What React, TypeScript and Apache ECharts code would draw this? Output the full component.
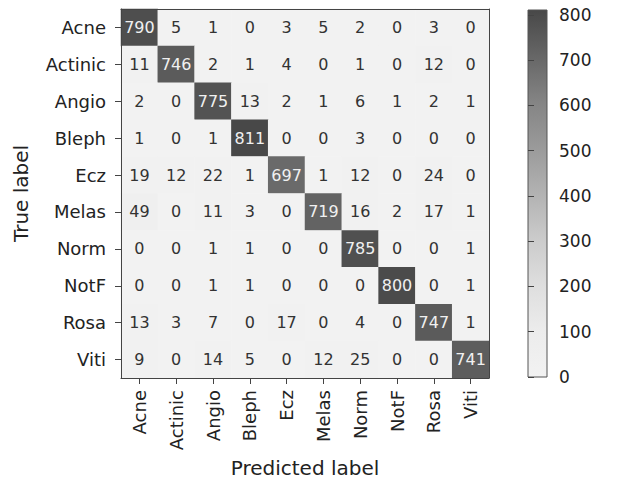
import React, { useEffect, useRef } from "react";
import * as echarts from "echarts";

const categories = ["Acne", "Actinic", "Angio", "Bleph", "Ecz", "Melas", "Norm", "NotF", "Rosa", "Viti"];

// rows = true label, columns = predicted label
const matrix: number[][] = [
  [790, 5, 1, 0, 3, 5, 2, 0, 3, 0],
  [11, 746, 2, 1, 4, 0, 1, 0, 12, 0],
  [2, 0, 775, 13, 2, 1, 6, 1, 2, 1],
  [1, 0, 1, 811, 0, 0, 3, 0, 0, 0],
  [19, 12, 22, 1, 697, 1, 12, 0, 24, 0],
  [49, 0, 11, 3, 0, 719, 16, 2, 17, 1],
  [0, 0, 1, 1, 0, 0, 785, 0, 0, 1],
  [0, 0, 1, 1, 0, 0, 0, 800, 0, 1],
  [13, 3, 7, 0, 17, 0, 4, 0, 747, 1],
  [9, 0, 14, 5, 0, 12, 25, 0, 0, 741],
];

const colorbarMin = 0;
const colorbarMax = 811;
const colorbarInterval = 100;

// compressed "Greys" colormap stops (light -> dark)
const cmapStops = ["#f2f2f2", "#ececec", "#dedede", "#cbcbcb", "#b2b2b2", "#9a9a9a", "#848484", "#666666", "#484848"];

const FONT = "DejaVu Sans";

export default function App() {
  const ref = useRef<HTMLDivElement>(null);

  useEffect(() => {
    document.body.style.margin = "0";
    if (!ref.current) return;
    const chart = echarts.init(ref.current, null, { renderer: "svg" });

    const thresh = colorbarMax / 2;
    const data: any[] = [];
    matrix.forEach((row, yi) => {
      row.forEach((v, xi) => {
        data.push({
          value: [xi, yi, v],
          label: { color: v > thresh ? "#f0f0f0" : "#333333" },
        });
      });
    });

    const gradient = new echarts.graphic.LinearGradient(
      0,
      1,
      0,
      0,
      cmapStops.map((c, i) => ({ offset: i / (cmapStops.length - 1), color: c }))
    );

    const axisLineStyle = { color: "#444", width: 1 };

    chart.setOption({
      animation: false,
      textStyle: { fontFamily: FONT },
      grid: [
        { left: 121, top: 9, width: 368, height: 369 },
        {
          left: 528,
          top: 10,
          width: 19,
          height: 367,
          show: true,
          backgroundColor: gradient,
          borderColor: "#555",
          borderWidth: 1,
        },
      ],
      visualMap: {
        show: false,
        type: "continuous",
        min: colorbarMin,
        max: colorbarMax,
        dimension: 2,
        seriesIndex: 0,
        inRange: { color: cmapStops },
      },
      xAxis: [
        {
          type: "category",
          data: categories,
          gridIndex: 0,
          position: "bottom",
          z: 10,
          axisLine: { show: true, lineStyle: axisLineStyle },
          axisTick: { show: true, alignWithLabel: true, length: 6, lineStyle: axisLineStyle },
          axisLabel: { rotate: 90, fontSize: 18, color: "#222", margin: 12, fontFamily: FONT },
          splitLine: { show: false },
          name: "Predicted label",
          nameLocation: "middle",
          nameGap: 78,
          nameTextStyle: { fontSize: 20, color: "#222", fontFamily: FONT },
        },
        {
          type: "category",
          data: categories,
          gridIndex: 0,
          position: "top",
          z: 10,
          axisLine: { show: true, lineStyle: axisLineStyle },
          axisTick: { show: false },
          axisLabel: { show: false },
        },
        {
          type: "value",
          gridIndex: 1,
          show: false,
        },
      ],
      yAxis: [
        {
          type: "category",
          data: categories,
          gridIndex: 0,
          inverse: true,
          position: "left",
          z: 10,
          axisLine: { show: true, lineStyle: axisLineStyle },
          axisTick: { show: true, alignWithLabel: true, length: 6, lineStyle: axisLineStyle },
          axisLabel: { fontSize: 18, color: "#222", margin: 15, fontFamily: FONT },
          splitLine: { show: false },
          name: "True label",
          nameLocation: "middle",
          nameGap: 90,
          nameRotate: 90,
          nameTextStyle: { fontSize: 20, color: "#222", fontFamily: FONT },
        },
        {
          type: "category",
          data: categories,
          gridIndex: 0,
          inverse: true,
          position: "right",
          z: 10,
          axisLine: { show: true, lineStyle: axisLineStyle },
          axisTick: { show: false },
          axisLabel: { show: false },
        },
        {
          type: "value",
          gridIndex: 1,
          position: "right",
          min: colorbarMin,
          max: colorbarMax,
          interval: colorbarInterval,
          axisLine: { show: false },
          axisTick: { show: true, length: 6, lineStyle: axisLineStyle },
          axisLabel: {
            fontSize: 17,
            color: "#222",
            margin: 12,
            fontFamily: FONT,
            showMaxLabel: false,
            formatter: (v: number) => (v % colorbarInterval === 0 ? String(v) : ""),
          },
          splitLine: { show: false },
        },
      ],
      series: [
        {
          type: "heatmap",
          xAxisIndex: 0,
          yAxisIndex: 0,
          data,
          label: { show: true, fontSize: 16, fontFamily: FONT },
          itemStyle: { borderWidth: 0 },
          emphasis: { disabled: true },
        },
      ],
    });

    return () => chart.dispose();
  }, []);

  return <div ref={ref} style={{ width: 622, height: 485 }} />;
}
